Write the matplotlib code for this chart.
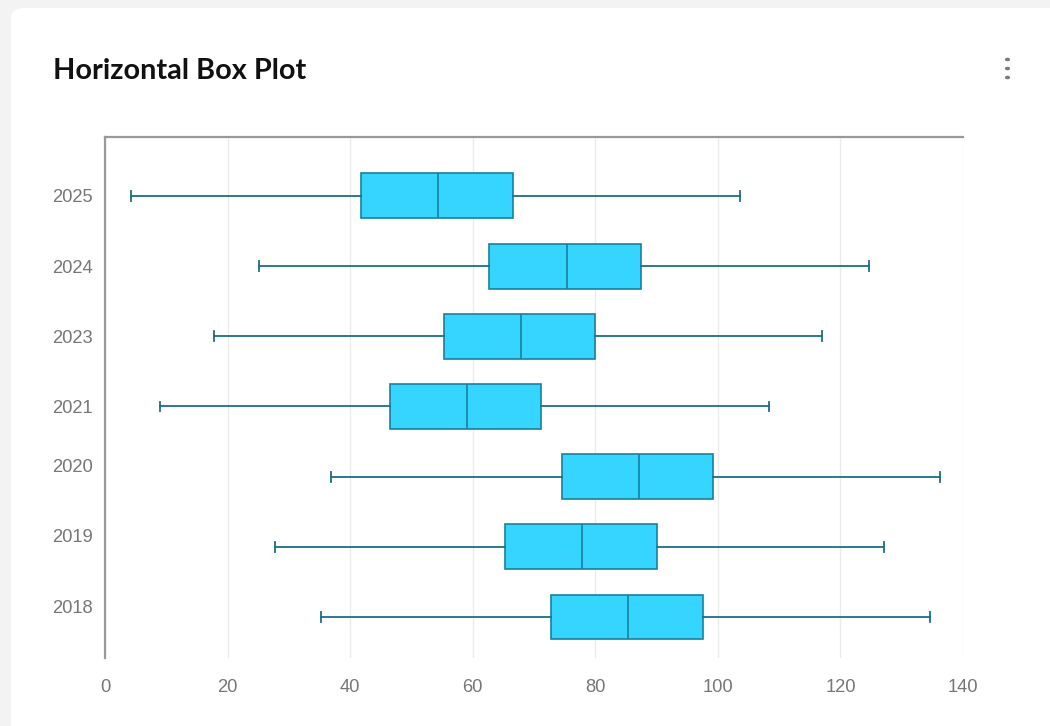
import matplotlib
matplotlib.use("Agg")
import matplotlib.pyplot as plt
import matplotlib.transforms as mtransforms
from matplotlib.patches import FancyBboxPatch, Circle

# Data: one horizontal box per year (bottom to top)
years = ["2018", "2019", "2020", "2021", "2023", "2024", "2025"]
whisker_low = [35.2, 27.7, 36.9, 9.0, 17.8, 25.1, 4.2]
q1 = [72.8, 65.3, 74.6, 46.5, 55.3, 62.7, 41.8]
median = [85.3, 77.8, 87.1, 59.1, 67.9, 75.4, 54.3]
q3 = [97.6, 90.1, 99.2, 71.1, 79.9, 87.5, 66.6]
whisker_high = [134.6, 127.1, 136.2, 108.3, 117.0, 124.7, 103.6]
x_ticks = [0, 20, 40, 60, 80, 100, 120, 140]

W, H = 1050, 726
fig = plt.figure(figsize=(W / 100, H / 100), dpi=100)
fig.patch.set_facecolor("#f3f3f3")

# White card
card = FancyBboxPatch((11 / W, -0.05), 1.2, (726 - 8) / H + 0.05,
                      boxstyle="round,pad=0,rounding_size=0.014",
                      transform=fig.transFigure, facecolor="white",
                      edgecolor="none", zorder=-10)
fig.patches.append(card)

fig.text(53 / W, 1 - 79 / H, "Horizontal Box Plot", fontsize=20.8,
         fontweight="bold", family="Lato", color="#111111",
         va="baseline", ha="left")

# Menu dots
for yy in (59.5, 68.5, 77.5):
    fig.patches.append(Circle((1007.5 / W, 1 - yy / H), 2.6 / W,
                              transform=fig.transFigure,
                              facecolor="#7a7a7a", edgecolor="none"))

ax = fig.add_axes([105 / W, 1 - 658 / H, (963 - 105) / W, (658 - 137) / H])
ax.set_facecolor("none")
ax.set_zorder(5)

stats = []
for i, y in enumerate(years):
    stats.append(dict(label=y, whislo=whisker_low[i], q1=q1[i], med=median[i],
                      q3=q3[i], whishi=whisker_high[i], fliers=[]))

positions = list(range(len(years)))
edge = "#17819f"
wcol = "#1b6d88"
ax.bxp(stats, positions=positions, vert=False, widths=0.64, patch_artist=True,
       showfliers=False, capwidths=0.14,
       boxprops=dict(facecolor="#35d5ff", edgecolor=edge, linewidth=1.2),
       medianprops=dict(color=edge, linewidth=1.2),
       whiskerprops=dict(color=wcol, linewidth=1.3),
       capprops=dict(color=wcol, linewidth=1.3))

ax.set_xlim(0, 140)
ax.set_ylim(-0.584, 6.84)
ax.set_xticks(x_ticks)
ax.set_xticklabels([str(t) for t in x_ticks])
ax.set_yticks(positions)
ax.set_yticklabels(years)

ax.grid(axis="x", color="#ebebeb", linewidth=1.0)
ax.set_axisbelow(True)
ax.tick_params(axis="both", length=0, colors="#777777", labelsize=13.2)
ax.tick_params(axis="x", pad=15)
ax.tick_params(axis="y", pad=8.5)
for lab in ax.get_xticklabels() + ax.get_yticklabels():
    lab.set_family("Liberation Sans")

for side in ("right", "bottom"):
    ax.spines[side].set_visible(False)
for side in ("top", "left"):
    ax.spines[side].set_color("#999999")
    ax.spines[side].set_linewidth(1.6)

# The three lowest labels sit slightly above their boxes
shift = mtransforms.ScaledTranslation(0, 11 / 100, fig.dpi_scale_trans)
for lab in ax.get_yticklabels()[:3]:
    lab.set_transform(lab.get_transform() + shift)

fig.savefig("out.png", dpi=100, facecolor=fig.get_facecolor())
